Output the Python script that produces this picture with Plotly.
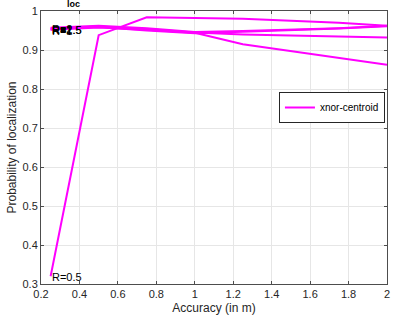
import plotly.graph_objects as go

accuracy = [0.25, 0.5, 0.75, 1.0, 1.25, 1.5, 1.75, 2.0]
r_labels = ["R=0.5", "R=1", "R=1.5", "R=2", "R=2.5"]
p_r05 = [0.32, 0.938, 0.984, 0.982, 0.980, 0.975, 0.970, 0.962]
p_r1 = [0.952, 0.958, 0.952, 0.944, 0.915, 0.897, 0.879, 0.862]
p_r15 = [0.955, 0.960, 0.954, 0.945, 0.940, 0.937, 0.934, 0.932]
p_r2 = [0.957, 0.962, 0.956, 0.946, 0.949, 0.953, 0.956, 0.962]
p_r25 = [0.953, 0.959, 0.950, 0.943, 0.947, 0.951, 0.955, 0.961]
series = [p_r05, p_r1, p_r15, p_r2, p_r25]
x_ticks = [0.2, 0.4, 0.6, 0.8, 1.0, 1.2, 1.4, 1.6, 1.8, 2.0]
x_ticktext = ["0.2", "0.4", "0.6", "0.8", "1", "1.2", "1.4", "1.6", "1.8", "2"]
y_ticks = [0.3, 0.4, 0.5, 0.6, 0.7, 0.8, 0.9, 1.0]
y_ticktext = ["0.3", "0.4", "0.5", "0.6", "0.7", "0.8", "0.9", "1"]

FONT = "Liberation Sans, Arial, sans-serif"
fig = go.Figure()
for i, (lab, ys) in enumerate(zip(r_labels, series)):
    fig.add_trace(go.Scatter(
        x=accuracy, y=ys, mode="lines",
        line=dict(color="#FF00FF", width=2),
        name="xnor-centroid", legendgroup="g", showlegend=(i == 0),
    ))
    fig.add_annotation(x=accuracy[0], y=ys[0], text=lab, showarrow=False,
                       xanchor="left", yanchor="middle", xshift=-1, yshift=-1,
                       font=dict(family=FONT, size=11, color="#000000"))

fig.add_annotation(x=(74 - 41) / 349, y=1 + 7 / 273, xref="paper", yref="paper",
                   text="<b>loc</b>", showarrow=False, xanchor="center", yanchor="middle",
                   font=dict(family=FONT, size=9, color="#000"))

axis_common = dict(
    showline=True, linecolor="#4d4d4d", linewidth=1, mirror="ticks",
    ticks="inside", ticklen=3, tickcolor="#4d4d4d",
    showgrid=True, gridcolor="#e6e6e6", gridwidth=1, zeroline=False,
    tickfont=dict(family=FONT, size=11, color="#262626"),
)
fig.update_xaxes(range=[0.2, 2.0], tickvals=x_ticks, ticktext=x_ticktext,
                 title=dict(text="Accuracy (in m)", font=dict(family=FONT, size=12, color="#262626"), standoff=4),
                 **axis_common)
fig.update_yaxes(range=[0.3, 1.0], tickvals=y_ticks, ticktext=y_ticktext,
                 title=dict(text="Probability of localization", font=dict(family=FONT, size=12, color="#262626"), standoff=3),
                 **axis_common)
fig.update_layout(
    width=394, height=320,
    margin=dict(l=41, r=4, t=11, b=36),
    paper_bgcolor="white", plot_bgcolor="white",
    legend=dict(x=(281 - 41) / 349, y=1 - (92 - 11) / 273, xanchor="left", yanchor="top",
                bgcolor="white", bordercolor="#262626", borderwidth=1,
                font=dict(family=FONT, size=10, color="#000"),
                itemwidth=30, tracegroupgap=0),
    showlegend=True,
)
fig.write_html("out.html")
